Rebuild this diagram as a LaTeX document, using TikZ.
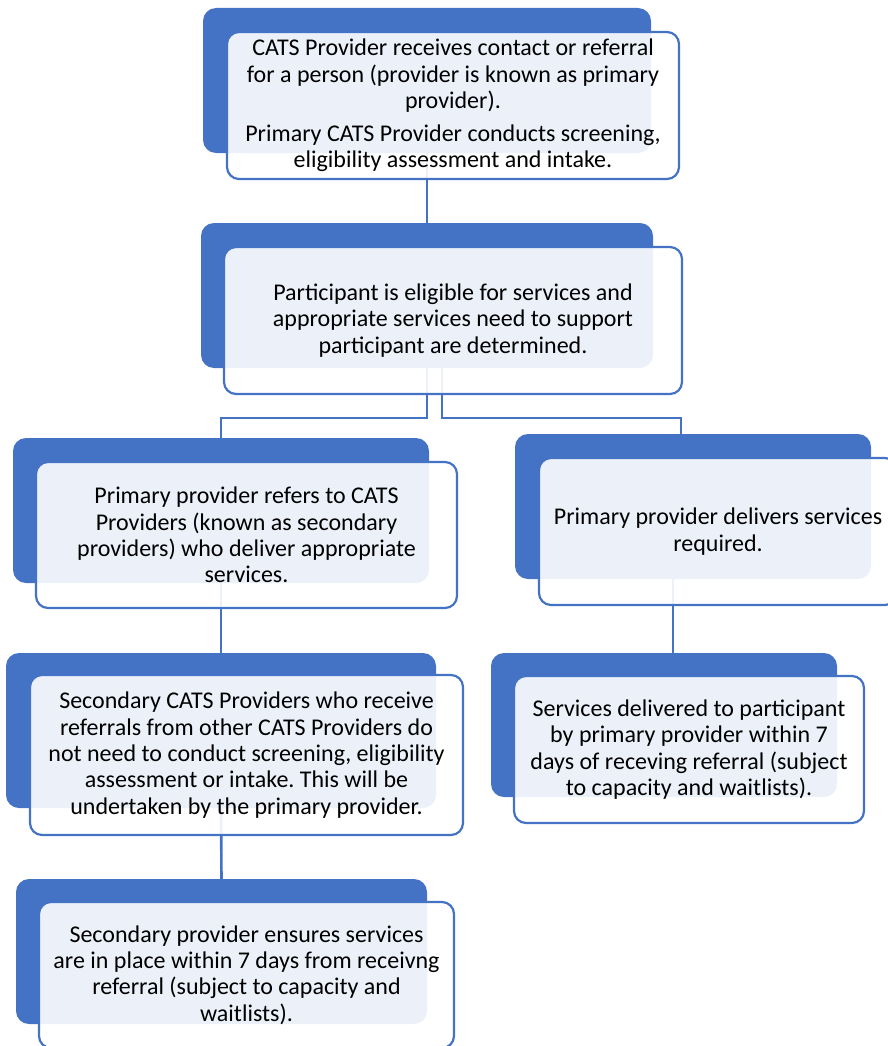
\documentclass[tikz,border=0pt]{standalone}
\usepackage{fontspec}
\setmainfont{Carlito}
\usetikzlibrary{calc}
\pgfdeclarelayer{background}
\pgfsetlayers{background,main}
\definecolor{accent}{HTML}{4472C4}
\frenchspacing
\tikzset{
  bluebox/.style={fill=accent, draw=none, rounded corners=13pt, inner sep=0pt},
  textbox/.style={fill=white, fill opacity=0.9, text opacity=1, draw=accent, draw opacity=1,
    line width=2.2pt, rounded corners=12pt, inner sep=0pt, align=center, text=black,
    font=\fontsize{24}{26.3}\selectfont},
  link/.style={draw=accent, line width=2.6pt}
}
\begin{document}
\begin{tikzpicture}[x=1pt, y=-1pt]
\useasboundingbox (0,0) rectangle (888,1046);

% step 1
\node[bluebox, minimum width=448, minimum height=145] (b1) at (427,80.5) {};
\node[textbox, minimum width=452, minimum height=147] (w1) at (453,105.5)
  {CATS Provider receives contact or referral\\for a person (provider is known as primary\\provider).\\[6.7pt]Primary CATS Provider conducts screening,\\eligibility assessment and intake.};

% step 2
\node[bluebox, minimum width=452, minimum height=145] (b2) at (427,295.5) {};
\node[textbox, minimum width=458, minimum height=147] (w2) at (453,320.5)
  {Participant is eligible for services and\\appropriate services need to support\\participant are determined.};

% left branch
\node[bluebox, minimum width=416, minimum height=145] (b3) at (221,510.5) {};
\node[textbox, minimum width=421, minimum height=146] (w3) at (246.5,535)
  {Primary provider refers to CATS\\Providers (known as secondary\\providers) who deliver appropriate\\services.};

\node[bluebox, minimum width=430, minimum height=155] (b5) at (221,730.5) {};
\node[textbox, minimum width=433, minimum height=160] (w5) at (246.5,755)
  {Secondary CATS Providers who receive\\referrals from other CATS Providers do\\not need to conduct screening, eligibility\\assessment or intake. This will be\\undertaken by the primary provider.};

\node[bluebox, minimum width=411, minimum height=145] (b7) at (221.5,951.5) {};
\node[textbox, minimum width=415, minimum height=146] (w7) at (246.5,975)
  {Secondary provider ensures services\\are in place within 7 days from receivng\\referral (subject to capacity and\\waitlists).};

% right branch
\node[bluebox, minimum width=356, minimum height=145] (b4) at (693,506.5) {};
\node[textbox, minimum width=358, minimum height=147] (w4) at (718,531.5)
  {Primary provider delivers services\\required.};

\node[bluebox, minimum width=346, minimum height=144] (b6) at (664,725) {};
\node[textbox, minimum width=350, minimum height=147] (w6) at (689,749.5)
  {Services delivered to participant\\by primary provider within 7\\days of receving referral (subject\\to capacity and waitlists).};

% connectors
\begin{pgfonlayer}{background}
  \coordinate (jl) at (221,418);
  \coordinate (jr) at (681,418);
  \draw[link] (b1.south) -- (b2.north);
  \draw[link] (b2.south) |- (jl) -- (b3.north);
  \draw[link] ([xshift=15pt]b2.south) |- (jr) -- (jr |- b4.north);
  \draw[link] (b3.south) -- (b5.north);
  \draw[link] (b5.south) -- (b7.north);
  \draw[link] ([xshift=-20pt]b4.south) -- ([xshift=-20pt]b4.south |- b6.north);
\end{pgfonlayer}
\end{tikzpicture}
\end{document}
